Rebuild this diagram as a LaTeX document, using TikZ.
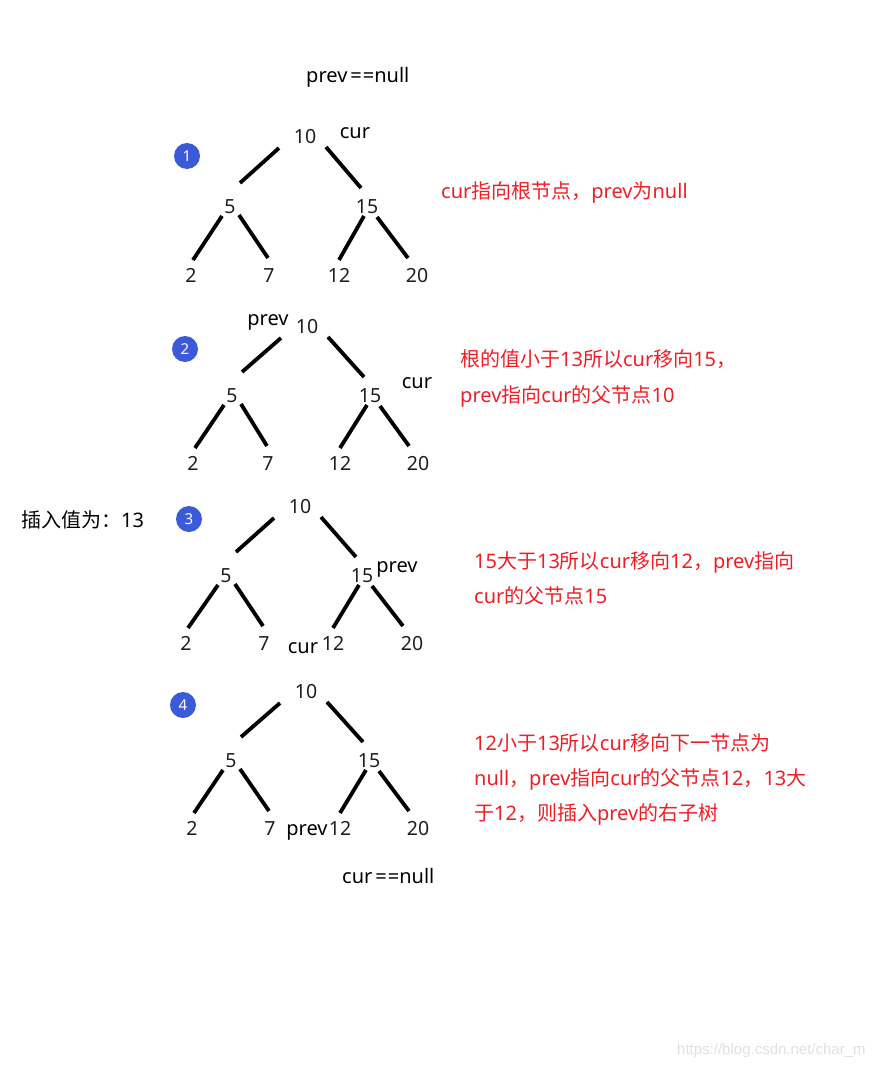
\documentclass[tikz,border=0pt]{standalone}
\usepackage{fontspec}
\setmainfont{Noto Sans}
\newfontfamily\cjk{Noto Sans CJK SC}
\newfontfamily\wmfont{Liberation Sans}
\newcommand\C[1]{{\cjk #1}}
\definecolor{redtxt}{RGB}{238,30,36}
\definecolor{badgeblue}{RGB}{58,90,216}
\definecolor{numgray}{RGB}{30,30,30}
\newcommand\drawtree[8]{%
  \node[num] (#1a) at (#2) {10};
  \node[num] (#1b) at (#3) {5};
  \node[num] (#1c) at (#4) {15};
  \node[num] (#1d) at (#5) {2};
  \node[num] (#1e) at (#6) {7};
  \node[num] (#1f) at (#7) {12};
  \node[num] (#1g) at (#8) {20};
  \draw[edge] ([shift={(-26,5)}]#1a.base) -- ([shift={(10,-30)}]#1b.base);
  \draw[edge] ([shift={(21,4)}]#1a.base) -- ([shift={(-6,-25)}]#1c.base);
  \draw[edge] ([shift={(-8,3)}]#1b.base) -- ([shift={(2,-22)}]#1d.base);
  \draw[edge] ([shift={(9,2)}]#1b.base) -- ([shift={(-1,-24)}]#1e.base);
  \draw[edge] ([shift={(-3,3)}]#1c.base) -- ([shift={(0,-22)}]#1f.base);
  \draw[edge] ([shift={(10,4)}]#1c.base) -- ([shift={(-9,-24)}]#1g.base);
}
\begin{document}
\begin{tikzpicture}[x=1pt,y=-1pt,
  num/.style={anchor=base, font=\fontsize{19.5}{19.5}\selectfont, text=numgray, inner sep=0pt},
  lab/.style={anchor=base, font=\fontsize{20}{20}\selectfont, inner sep=0pt},
  labw/.style={anchor=base west, font=\fontsize{20}{20}\selectfont, inner sep=0pt},
  note/.style={anchor=base west, font=\fontsize{20}{20}\selectfont, text=redtxt, inner sep=0pt},
  badge/.style={circle, fill=badgeblue, minimum size=26pt, inner sep=0pt, text=white, font=\fontsize{15}{15}\selectfont},
  edge/.style={line width=3.8pt, black}]
\useasboundingbox (0,0) rectangle (883,1065);

\node[labw] (prevnull) at (306,82) {prev\kern3pt=\kern1pt=null};

% tree 1
\node[badge] (b1) at (187,156) {1};
\drawtree{p}{305,143}{230,213}{367,213}{191,282}{269,282}{339,282}{417,282}
\node[lab] (cur1) at (355,138) {cur};
\node[note] (n1) at (441,198) {cur\C{指向根节点，}prev\C{为}null};

% tree 2
\node[badge] (b2) at (185,349) {2};
\drawtree{q}{307,333}{232,402}{370,402}{193,470}{268,470}{340,470}{418,470}
\node[lab] (prev2) at (268,325) {prev};
\node[lab] (cur2) at (417,388) {cur};
\node[note] (n2a) at (460,366) {\C{根的值小于}13\C{所以}cur\C{移向}15\C{，}};
\node[note] (n2b) at (460,402) {prev\C{指向}cur\C{的父节点}10};

% tree 3
\node[labw] (ins) at (21,527) {\C{插入值为：}13};
\node[badge] (b3) at (189,519) {3};
\drawtree{r}{300,513}{226,582}{362,582}{186,650}{264,650}{333,650}{412,650}
\node[lab] (prev3) at (397,572) {prev};
\node[lab] (cur3) at (303,653) {cur};
\node[note] (n3a) at (474,568) {15\C{大于}13\C{所以}cur\C{移向}12\C{，}prev\C{指向}};
\node[note] (n3b) at (474,603) {cur\C{的父节点}15};

% tree 4
\node[badge] (b4) at (183,705) {4};
\drawtree{s}{306,698}{231,767}{369,767}{192,835}{270,835}{340,835}{418,835}
\node[lab] (prev4) at (307,835) {prev};
\node[labw] (curnull) at (342,883) {cur\kern3pt=\kern1pt=null};
\node[note] (n4a) at (474,750) {12\C{小于}13\C{所以}cur\C{移向下一节点为}};
\node[note] (n4b) at (474,785) {null\C{，}prev\C{指向}cur\C{的父节点}12\C{，}13\C{大}};
\node[note] (n4c) at (474,820) {\C{于}12\C{，则插入}prev\C{的右子树}};

\node[anchor=base west, inner sep=0pt, text=black!12, font=\wmfont\fontsize{15}{15}\selectfont] (wm) at (677,1054) {https://blog.csdn.net/char\_m};
\end{tikzpicture}
\end{document}
